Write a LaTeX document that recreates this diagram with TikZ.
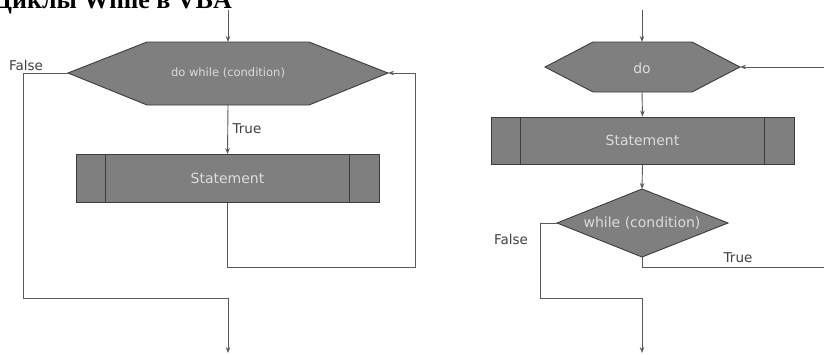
\documentclass[tikz,border=0pt]{standalone}
\usepackage{fontspec}
\setmainfont{DejaVu Sans}
\newfontfamily\titlefont{Liberation Serif}
\usetikzlibrary{arrows.meta}

\definecolor{boxgray}{HTML}{7F7F7F}
\definecolor{edgegray}{HTML}{3C3C3C}
\definecolor{linegray}{HTML}{5A5A5A}
\definecolor{textlight}{HTML}{DCDCDC}
\definecolor{labelgray}{HTML}{404040}

\begin{document}
\begin{tikzpicture}[x=1pt,y=-1pt,
  line/.style={draw=linegray, line width=0.9pt},
  arr/.style={line, -{Stealth[length=6pt,width=4.5pt]}},
  blk/.style={draw=edgegray, fill=boxgray, line width=0.9pt},
  stmt/.style={blk, minimum width=303pt, minimum height=48pt, inner sep=0pt},
  intext/.style={text=textlight, inner sep=0pt, font=\fontsize{14}{16}\selectfont},
  lbl/.style={text=labelgray, inner sep=0pt, font=\fontsize{13.5}{16}\selectfont}]
\useasboundingbox (0,0) rectangle (824,354);
\clip (0,0) rectangle (824,354);
\fill[white] (0,0) rectangle (824,354);

% heading, partly above the top edge
\node[anchor=base east, inner sep=0pt,
      font=\titlefont\bfseries\fontsize{26}{28}\selectfont] (title) at (232,8.5)
      {Циклы While в VBA};

% ---------- left: do while (condition) ----------
\coordinate (ltop) at (228,10);
\coordinate (lhexN) at (228,42);
\coordinate (lhexS) at (228,105);
\coordinate (lhexW) at (68,73);
\coordinate (lhexE) at (388,73);
\draw[blk] (147,42) -- (309,42) -- (lhexE) -- (309,105) -- (147,105) -- (lhexW) -- cycle;
\node[intext, font=\fontsize{11.5}{14}\selectfont] (lcond) at (228,73) {do while (condition)};

\node[stmt] (lst) at (227.5,178.5) {};
\draw[edgegray, line width=0.9pt] ([xshift=30pt]lst.north west) -- ([xshift=30pt]lst.south west);
\draw[edgegray, line width=0.9pt] ([xshift=-30pt]lst.north east) -- ([xshift=-30pt]lst.south east);
\node[intext] (lsttext) at (lst.center) {Statement};

\coordinate (lloop) at (415,267);
\coordinate (lfalse) at (23,298);
\coordinate (lend) at (228,353);

\draw[arr] (ltop) -- (lhexN);
\draw[arr] (lhexS) -- (lst.north);
\draw[arr] (lst.south) |- (lloop) |- (lhexE);
\draw[arr] (lhexW) -| (lfalse) -| (lend);

\node[lbl] (lFalse) at (26,65) {False};
\node[lbl] (lTrue) at (247,129) {True};

% ---------- right: do ... while (condition) ----------
\coordinate (rtop) at (642,10);
\coordinate (rhexN) at (642,42);
\coordinate (rhexS) at (642,92);
\coordinate (rhexW) at (545,67);
\coordinate (rhexE) at (740,67);
\coordinate (rin) at (824,67);
\draw[blk] (593,42) -- (692,42) -- (rhexE) -- (692,92) -- (593,92) -- (rhexW) -- cycle;
\node[intext] (rdo) at (642,68) {do};

\node[stmt, minimum height=47pt] (rst) at (642.5,140.5) {};
\draw[edgegray, line width=0.9pt] ([xshift=30pt]rst.north west) -- ([xshift=30pt]rst.south west);
\draw[edgegray, line width=0.9pt] ([xshift=-30pt]rst.north east) -- ([xshift=-30pt]rst.south east);
\node[intext] (rsttext) at (rst.center) {Statement};

\coordinate (rdN) at (642,189);
\coordinate (rdS) at (642,257);
\coordinate (rdW) at (557,223);
\coordinate (rdE) at (728,223);
\draw[blk] (rdN) -- (rdE) -- (rdS) -- (rdW) -- cycle;
\node[intext] (rcond) at (642,223) {while (condition)};

\coordinate (rfalse) at (540,298);
\coordinate (rend) at (642,353);
\coordinate (rout) at (824,267);

\draw[arr] (rtop) -- (rhexN);
\draw[arr] (rin) -- (rhexE);
\draw[arr] (rhexS) -- (rst.north);
\draw[arr] (rst.south) -- (rdN);
\draw[arr] (rdW) -| (rfalse) -| (rend);
\draw[line] (rdS) |- (rout);

\node[lbl] (rFalse) at (511,239) {False};
\node[lbl] (rTrue) at (738,258) {True};
\end{tikzpicture}
\end{document}
